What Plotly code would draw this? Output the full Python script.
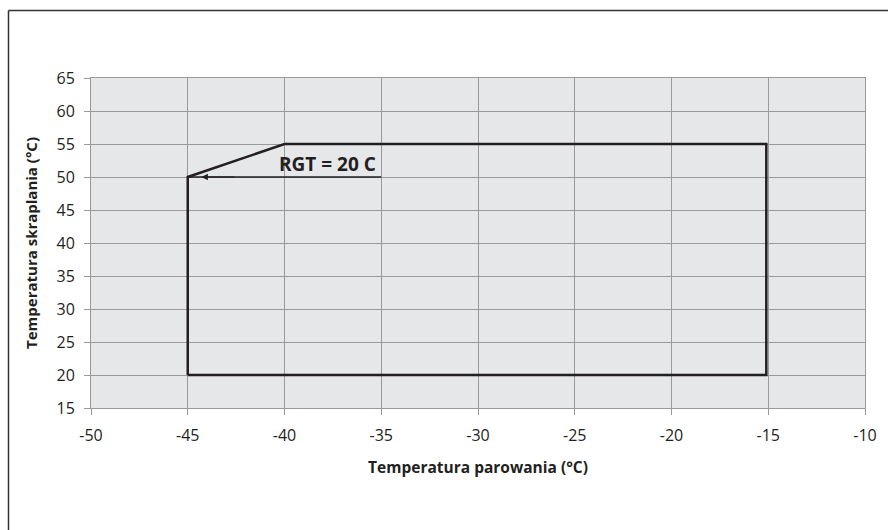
import plotly.graph_objects as go

# Envelope of operating range
env_x = [-45, -45, -40, -15.1, -15.1, -45]
env_y = [20, 50, 55, 55, 20, 20]

# RGT arrow line
rgt_x = [-45, -35]
rgt_y = [50, 50]
rgt_label = "RGT = 20 C"

x_ticks = [-50, -45, -40, -35, -30, -25, -20, -15, -10]
y_ticks = [15, 20, 25, 30, 35, 40, 45, 50, 55, 60, 65]

W, H = 888, 530
L, R, T, B = 91, 23, 78, 122
pw, ph = W - L - R, H - T - B

dark = "#231f20"
gridc = "#9a9a9a"
font_fam = "Open Sans, Noto Sans, sans-serif"

fig = go.Figure()
fig.add_trace(go.Scatter(x=rgt_x, y=rgt_y, mode="lines",
                         line=dict(color=dark, width=1.5), hoverinfo="skip", showlegend=False))
fig.add_trace(go.Scatter(x=env_x, y=env_y, mode="lines",
                         line=dict(color=dark, width=2.5), hoverinfo="skip", showlegend=False))

fig.add_annotation(x=-44.3, y=50, ax=-42.5, ay=50, xref="x", yref="y", axref="x", ayref="y",
                   showarrow=True, arrowhead=2, arrowsize=1.1, arrowwidth=1.2, arrowcolor=dark, text="")
fig.add_annotation(x=-35.15, y=52.0, xref="x", yref="y", text="<b>" + rgt_label + "</b>",
                   showarrow=False, xanchor="right", yanchor="middle",
                   font=dict(family=font_fam, size=19, color=dark))

# outer frame (top and left edges)
fx = (8.5 - L) / pw
fy = (H - B - 10.5) / ph
fig.add_shape(type="line", xref="paper", yref="paper", x0=fx, x1=(W - L) / pw + 0.01, y0=fy, y1=fy,
              line=dict(color="#333333", width=1.5))
fig.add_shape(type="line", xref="paper", yref="paper", x0=fx, x1=fx, y0=fy, y1=-B / ph - 0.01,
              line=dict(color="#333333", width=1.5))

axis_common = dict(showgrid=True, gridcolor=gridc, gridwidth=1, showline=True, linecolor=gridc,
                   linewidth=1, mirror=True, ticks="outside", tickcolor=gridc, ticklen=6,
                   tickfont=dict(family=font_fam, size=16, color=dark), zeroline=False)

fig.update_xaxes(range=[-50, -10], tickvals=x_ticks, ticktext=[str(v) for v in x_ticks],
                 ticklabelstandoff=7,
                 title=dict(text="<b>Temperatura parowania (°C)</b>", standoff=16,
                            font=dict(family=font_fam, size=15.5, color=dark)), **axis_common)
fig.update_yaxes(range=[15, 65], tickvals=y_ticks, ticktext=[str(v) for v in y_ticks],
                 ticklabelstandoff=6,
                 title=dict(text="<b>Temperatura skraplania (°C)</b>", standoff=15,
                            font=dict(family=font_fam, size=15, color=dark)), **axis_common)

fig.update_layout(width=W, height=H, margin=dict(l=L, r=R, t=T, b=B, autoexpand=False),
                  plot_bgcolor="#e6e7e8", paper_bgcolor="white", showlegend=False)

fig.write_html("out.html", config={"displayModeBar": False},
               post_script="document.body.style.margin='0';document.body.style.overflow='hidden';")
